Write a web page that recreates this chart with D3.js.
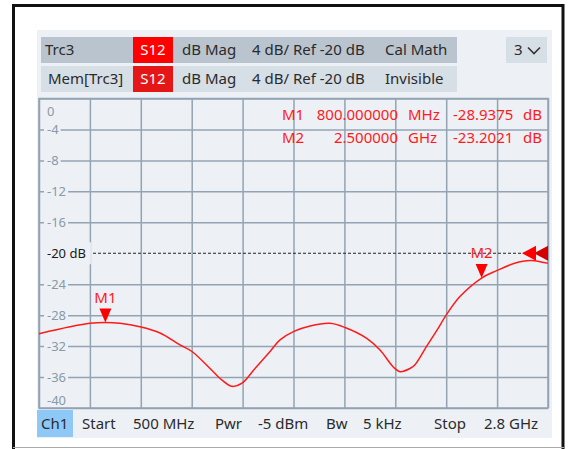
<!DOCTYPE html>
<html>
<head>
<meta charset="utf-8">
<script src="https://cdn.jsdelivr.net/npm/d3@7"></script>
<style>
  body { margin: 0; background: #fff; }
  svg { display: block; font-family: "Noto Sans", sans-serif; }
</style>
</head>
<body>
<svg id="chart"></svg>
<script>
// trace data (MHz, dB)
const freqs = [500, 640, 730, 800, 866, 956, 1047, 1137, 1191, 1273, 1327, 1372, 1417, 1476,
  1544, 1589, 1652, 1725, 1815, 1883, 1981, 2041, 2101, 2131, 2176, 2199, 2252, 2297, 2342, 2402,
  2500, 2568, 2649, 2719, 2800];
const s12 = [-30.4, -29.5, -29.05, -28.94, -29.05, -29.5, -30.3, -31.85, -32.7, -34.9, -36.4,
  -37.2, -36.8, -34.9, -32.7, -31.2, -30.1, -29.4, -29.05, -29.6, -31.0, -32.5, -34.7, -35.3,
  -34.9, -34.4, -32.0, -30.0, -27.9, -25.6, -23.2, -22.25, -21.3, -20.95, -21.3];

const yTicks = [0, -4, -8, -12, -16, -20, -24, -28, -32, -36, -40];
const yLabels = ['0', '-4', '-8', '-12', '-16', '-20 dB', '-24', '-28', '-32', '-36', '-40'];
const refLevel = -20;

const markers = [
  { name: 'M1', freq: 800, value: -28.9375, freqText: '800.000000', unit: 'MHz' },
  { name: 'M2', freq: 2500, value: -23.2021, freqText: '2.500000', unit: 'GHz' }
];

const headerRows = [
  ['Trc3', 'S12', 'dB Mag', '4 dB/ Ref -20 dB', 'Cal Math'],
  ['Mem[Trc3]', 'S12', 'dB Mag', '4 dB/ Ref -20 dB', 'Invisible']
];
const footer = ['Ch1', 'Start', '500 MHz', 'Pwr', '-5 dBm', 'Bw', '5 kHz', 'Stop', '2.8 GHz'];

const width = 569;
const height = 449;
const plot = { left: 39, right: 548, top: 98.5, bottom: 408 };
const panelBg = '#edf1f5';

const svg = d3.select('#chart').attr('width', width).attr('height', height);

// frame
svg.append('rect').attr('x', 37).attr('y', 30).attr('width', 515).attr('height', 408).attr('fill', panelBg);
svg.append('path').attr('d', 'M13.5,449 V5.5 H563 V449').attr('fill', 'none').attr('stroke', '#111').attr('stroke-width', 3);
svg.append('line').attr('x1', 13).attr('x2', 564).attr('y1', 447.5).attr('y2', 447.5).attr('stroke', '#aaa');

// header
const rowY = [37, 66];
const rowFill = ['#b9c4ce', '#d6dee6'];
const s12Fill = ['#ff0000', '#e51616'];
const colX = [45, 0, 182, 252, 385];
headerRows.forEach((row, i) => {
  svg.append('rect').attr('x', 41).attr('y', rowY[i]).attr('width', 416).attr('height', 26).attr('fill', rowFill[i]);
  svg.append('rect').attr('x', 133).attr('y', rowY[i]).attr('width', 40).attr('height', 26).attr('fill', s12Fill[i]);
  row.forEach((t, j) => {
    svg.append('text')
      .attr('x', j === 1 ? 153 : (i === 1 && j === 0 ? 48 : colX[j]))
      .attr('y', rowY[i] + 13)
      .attr('dy', '0.35em')
      .attr('text-anchor', j === 1 ? 'middle' : 'start')
      .attr('font-size', 15)
      .attr('fill', j === 1 ? '#fff' : '#2b2b2b')
      .text(t);
  });
});
svg.append('rect').attr('x', 506).attr('y', 37).attr('width', 41).attr('height', 26).attr('fill', '#d6dee6');
svg.append('text').attr('x', 514).attr('y', 50).attr('dy', '0.35em').attr('font-size', 15).attr('fill', '#2b2b2b').text('3');
svg.append('path').attr('d', 'M528,47.5 L534,53.5 L540,47.5').attr('fill', 'none').attr('stroke', '#333').attr('stroke-width', 1.6);

// scales
const x = d3.scaleLinear().domain([500, 2800]).range([plot.left, plot.right]);
const y = d3.scaleLinear().domain([-40, 0]).range([plot.bottom, plot.top]);
const xTicks = d3.range(0, 11).map(k => 500 + k * 230);

const gridColor = '#93a3b3';
const gx = svg.append('g').attr('transform', `translate(0,${plot.bottom})`)
  .call(d3.axisBottom(x).tickValues(xTicks).tickSize(-(plot.bottom - plot.top)).tickFormat(''));
const gy = svg.append('g').attr('transform', `translate(${plot.left},0)`)
  .call(d3.axisLeft(y).tickValues(yTicks.filter(v => v !== refLevel)).tickSize(-(plot.right - plot.left)).tickFormat(''));
[gx, gy].forEach(g => {
  g.select('.domain').remove();
  g.selectAll('line').attr('stroke', gridColor).attr('stroke-width', 1.5);
});
svg.append('rect').attr('x', plot.left).attr('y', plot.top).attr('width', plot.right - plot.left)
  .attr('height', plot.bottom - plot.top).attr('fill', 'none').attr('stroke', gridColor).attr('stroke-width', 1.5);

// y labels, each with a patch of background that breaks the grid line
yTicks.forEach((v, i) => {
  let cy = y(v);
  if (i === 0) cy = y(v) + 13;
  if (i === yTicks.length - 1) cy = y(v) - 8;
  const isRef = v === refLevel;
  const g = svg.append('g');
  const bg = g.append('rect').attr('fill', panelBg);
  const t = g.append('text')
    .attr('x', 47).attr('y', cy).attr('dy', '0.35em')
    .attr('font-size', 13)
    .attr('fill', isRef ? '#1a1a1a' : '#8a99a8')
    .text(yLabels[i]);
  const w = t.node().getComputedTextLength();
  if (i > 0 && i < yTicks.length - 1) {
    bg.attr('x', 44).attr('y', cy - (isRef ? 11 : 8)).attr('width', w + (isRef ? 8 : 5))
      .attr('height', isRef ? 22 : 16);
  }
});

// reference line
svg.append('line').attr('x1', 93).attr('x2', plot.right).attr('y1', y(refLevel)).attr('y2', y(refLevel))
  .attr('stroke', '#222').attr('stroke-width', 1.2).attr('stroke-dasharray', '3,2');

// trace
const line = d3.line().x((d, i) => x(freqs[i])).y(d => y(d)).curve(d3.curveCatmullRom);
svg.append('path').datum(s12).attr('d', line).attr('fill', 'none').attr('stroke', '#ff1a1a').attr('stroke-width', 1.5);

// reference arrows at right edge
const ry = y(refLevel);
svg.append('path').attr('d', `M${plot.right - 26},${ry} L${plot.right - 12},${ry - 7.5} L${plot.right - 12},${ry + 7.5} Z`).attr('fill', '#ff0000');
svg.append('path').attr('d', `M${plot.right - 14},${ry} L${plot.right},${ry - 7.5} L${plot.right},${ry + 7.5} Z`).attr('fill', '#d40000');

// markers on trace
markers.forEach(m => {
  const mx = x(m.freq), my = y(m.value);
  svg.append('path').attr('d', `M${mx},${my} L${mx - 6},${my - 14} L${mx + 6},${my - 14} Z`).attr('fill', '#ff0000');
  svg.append('text').attr('x', mx).attr('y', my - 25).attr('dy', '0.35em').attr('text-anchor', 'middle')
    .attr('font-size', 15).attr('fill', '#ff1a1a').text(m.name);
});

// marker table
markers.forEach((m, i) => {
  const ty = 115 + i * 23;
  const g = svg.append('g').attr('font-size', 15).attr('fill', '#ff1a1a');
  g.append('text').attr('x', 282).attr('y', ty).attr('dy', '0.35em').text(m.name);
  g.append('text').attr('x', 398).attr('y', ty).attr('dy', '0.35em').attr('text-anchor', 'end').text(m.freqText);
  g.append('text').attr('x', 408).attr('y', ty).attr('dy', '0.35em').text(m.unit);
  g.append('text').attr('x', 453).attr('y', ty).attr('dy', '0.35em').text(m.value.toFixed(4));
  g.append('text').attr('x', 542).attr('y', ty).attr('dy', '0.35em').attr('text-anchor', 'end').text('dB');
});

// footer
svg.append('rect').attr('x', 37).attr('y', 410).attr('width', 36).attr('height', 27).attr('fill', '#8ec8f6');
const footX = [41, 82, 133, 215, 258, 326, 363, 434, 484];
footer.forEach((t, i) => {
  svg.append('text').attr('x', footX[i]).attr('y', 424).attr('dy', '0.35em')
    .attr('font-size', 15).attr('fill', '#2b2b2b').text(t);
});
</script>
</body>
</html>
